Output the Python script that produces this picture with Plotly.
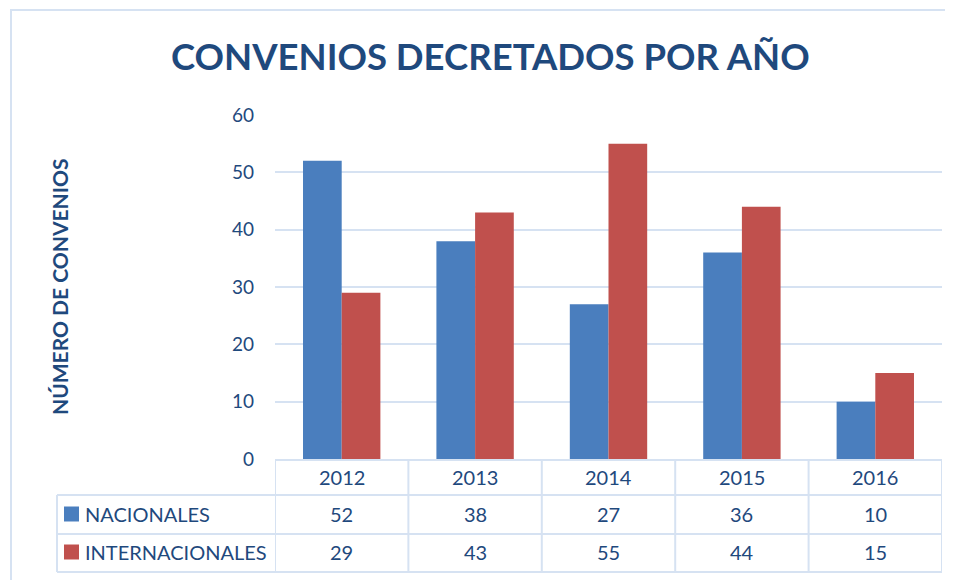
import plotly.graph_objects as go

# data
years = ["2012", "2013", "2014", "2015", "2016"]
nacionales = [52, 38, 27, 36, 10]
internacionales = [29, 43, 55, 44, 15]
series_names = ["NACIONALES", "INTERNACIONALES"]

W, H = 953, 580
OFF = 8  # page body margin
TXT = "#1F497D"
GRID = "#D6E2F2"
BLUE = "#4A7EBE"
RED = "#C0504D"
FONT = "Lato"


def px(x):
    return (x - OFF) / W


def py(y):
    return 1 - (y - OFF) / H


fig = go.Figure()
fig.add_trace(go.Bar(x=years, y=nacionales, name=series_names[0],
                     marker=dict(color=BLUE, line=dict(width=0))))
fig.add_trace(go.Bar(x=years, y=internacionales, name=series_names[1],
                     marker=dict(color=RED, line=dict(width=0))))

shapes = []
ann = []

# outer chart border
shapes.append(dict(type="rect", xref="paper", yref="paper",
                   x0=px(11), x1=px(980), y0=py(10), y1=py(620),
                   line=dict(color=GRID, width=2)))

# data table grid
line = dict(color=GRID, width=2)
for yy in [495, 534, 572]:
    shapes.append(dict(type="line", xref="paper", yref="paper",
                       x0=px(57), x1=px(942), y0=py(yy), y1=py(yy), line=line))
shapes.append(dict(type="line", xref="paper", yref="paper",
                   x0=px(57), x1=px(57), y0=py(495), y1=py(572), line=line))
for i in range(len(years) + 1):
    shapes.append(dict(type="line", xref="x", yref="paper",
                       x0=i - 0.5, x1=i - 0.5, y0=py(459), y1=py(572), line=line))

# legend keys inside the table
for col, yc in [(BLUE, 514), (RED, 552)]:
    shapes.append(dict(type="rect", xref="paper", yref="paper",
                       x0=px(64), x1=px(79), y0=py(yc - 7.5), y1=py(yc + 7.5),
                       fillcolor=col, line=dict(width=0)))

tf = dict(family=FONT, size=20, color=TXT)
for i, yr in enumerate(years):
    for text, yc in [(yr, 477), (str(nacionales[i]), 514), (str(internacionales[i]), 552)]:
        ann.append(dict(x=i, xref="x", y=py(yc), yref="paper", text=text,
                        xanchor="center", yanchor="middle", showarrow=False, font=tf))
for name, yc in zip(series_names, [514, 552]):
    ann.append(dict(x=px(83), xref="paper", y=py(yc), yref="paper", text=name,
                    xanchor="left", yanchor="middle", showarrow=False, font=tf))

# titles
ann.append(dict(x=px(490), y=py(56), xref="paper", yref="paper",
                text="<b>CONVENIOS DECRETADOS POR AÑO</b>", showarrow=False,
                xanchor="center", yanchor="middle",
                font=dict(family=FONT, size=36.5, color=TXT)))
ann.append(dict(x=px(59), y=py(287), xref="paper", yref="paper",
                text="<b>NÚMERO DE CONVENIOS</b>", showarrow=False, textangle=-90,
                xanchor="center", yanchor="middle",
                font=dict(family=FONT, size=21, color=TXT)))

fig.update_layout(
    width=W, height=H,
    margin=dict(l=0, r=0, t=0, b=0, autoexpand=False),
    paper_bgcolor="white", plot_bgcolor="white",
    showlegend=False,
    barmode="group", bargap=0.42, bargroupgap=0,
    font=dict(family=FONT, color=TXT),
    xaxis=dict(type="category", domain=[px(275), px(942)], showticklabels=False,
               ticks="", showgrid=False, showline=True, linecolor=GRID, linewidth=2,
               range=[-0.5, len(years) - 0.5], automargin=False),
    yaxis=dict(domain=[py(459), py(115)], range=[0, 60], dtick=10,
               showgrid=True, gridcolor=GRID, gridwidth=2, zeroline=False,
               ticks="", ticklabelstandoff=20, automargin=False,
               tickfont=dict(family=FONT, size=19, color=TXT)),
    shapes=shapes,
    annotations=ann,
)

fig.write_html("out.html")
